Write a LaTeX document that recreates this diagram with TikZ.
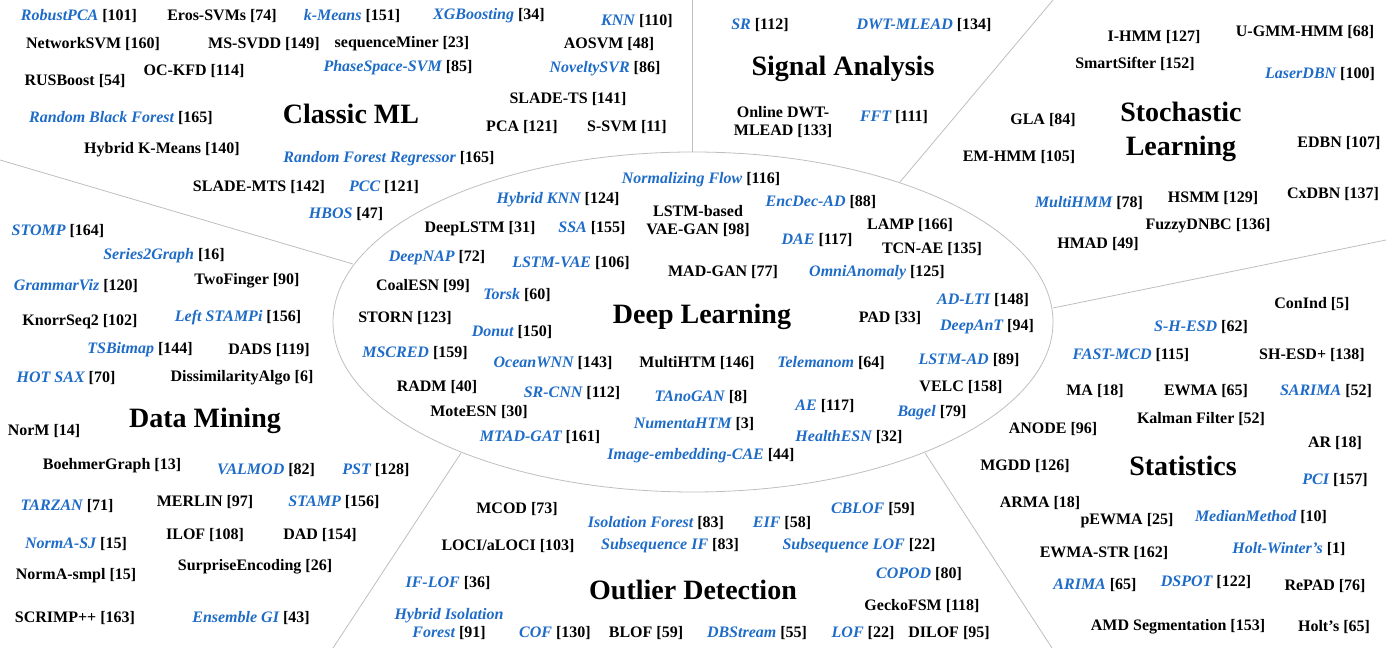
\documentclass[tikz,border=0pt]{standalone}
\usepackage{fontspec}
\setmainfont{Liberation Serif}
\definecolor{mblue}{RGB}{30,108,200}
\definecolor{sepgray}{RGB}{190,190,190}
\newcommand\mbl[1]{{\color{mblue}\itshape #1}}
\begin{document}
\begin{tikzpicture}[x=0.75pt,y=-0.75pt,
  lab/.style={inner sep=0pt,font=\fontsize{12}{14}\selectfont\bfseries,align=center},
  ttl/.style={inner sep=0pt,font=\fontsize{21}{25}\selectfont\bfseries,align=center},
  sep/.style={draw=sepgray,line width=0.6pt}]
\useasboundingbox (0,0) rectangle (1386,648);
% separators
\draw[sep] (693,322) ellipse [x radius=270pt, y radius=127.5pt];
\coordinate (s1a) at (692,0);    \coordinate (s1b) at (692,152);
\coordinate (s2a) at (1053,0);   \coordinate (s2b) at (900,182);
\coordinate (s3a) at (1386,240); \coordinate (s3b) at (1053,308);
\coordinate (s4a) at (925,453);  \coordinate (s4b) at (1052,648);
\coordinate (s5a) at (461,453);  \coordinate (s5b) at (333,648);
\coordinate (s6a) at (0,160);    \coordinate (s6b) at (353,264);
\draw[sep] (s1a) -- (s1b);
\draw[sep] (s2a) -- (s2b);
\draw[sep] (s3a) -- (s3b);
\draw[sep] (s4a) -- (s4b);
\draw[sep] (s5a) -- (s5b);
\draw[sep] (s6a) -- (s6b);
% Classic ML
\node[ttl] (tCML) at (351,114) {Classic ML};
\node[lab] (c1) at (79,16) {\mbl{RobustPCA} [101]};
\node[lab] (c2) at (222,16) {Eros-SVMs [74]};
\node[lab] (c3) at (352,16) {\mbl{k-Means} [151]};
\node[lab] (c4) at (489,16) {\mbl{XGBoosting} [34]};
\node[lab] (c5) at (637,21) {\mbl{KNN} [110]};
\node[lab] (c6) at (93,44) {NetworkSVM [160]};
\node[lab] (c7) at (264,44) {MS-SVDD [149]};
\node[lab] (c8) at (402,44) {sequenceMiner [23]};
\node[lab] (c9) at (609,44) {AOSVM [48]};
\node[lab] (c10) at (75,81) {RUSBoost [54]};
\node[lab] (c11) at (194,71) {OC-KFD [114]};
\node[lab] (c12) at (398,68) {\mbl{PhaseSpace-SVM} [85]};
\node[lab] (c13) at (605,69) {\mbl{NoveltySVR} [86]};
\node[lab] (c14) at (121,118) {\mbl{Random Black Forest} [165]};
\node[lab] (c15) at (568,99) {SLADE-TS [141]};
\node[lab] (c16) at (522,127) {PCA [121]};
\node[lab] (c17) at (627,127) {S-SVM [11]};
\node[lab] (c18) at (162,150) {Hybrid K-Means [140]};
\node[lab] (c19) at (389,159) {\mbl{Random Forest Regressor} [165]};
\node[lab] (c20) at (259,187) {SLADE-MTS [142]};
\node[lab] (c21) at (384,187) {\mbl{PCC} [121]};
\node[lab] (c22) at (346,214) {\mbl{HBOS} [47]};
% Signal Analysis
\node[ttl] (tSA) at (843,69) {Signal Analysis};
\node[lab] (a1) at (760,25) {\mbl{SR} [112]};
\node[lab] (a2) at (924,25) {\mbl{DWT-MLEAD} [134]};
\node[lab] (a3) at (783,122) {Online DWT-\\MLEAD [133]};
\node[lab] (a4) at (894,117) {\mbl{FFT} [111]};
% Stochastic Learning
\node[ttl] (tSL) at (1181,132) {Stochastic\\Learning};
\node[lab] (s1) at (1154,37) {I-HMM [127]};
\node[lab] (s2) at (1305,32) {U-GMM-HMM [68]};
\node[lab] (s3) at (1135,64) {SmartSifter [152]};
\node[lab] (s4) at (1320,74) {\mbl{LaserDBN} [100]};
\node[lab] (s5) at (1043,120) {GLA [84]};
\node[lab] (s6) at (1339,143) {EDBN [107]};
\node[lab] (s7) at (1019,157) {EM-HMM [105]};
\node[lab] (s8) at (1089,203) {\mbl{MultiHMM} [78]};
\node[lab] (s9) at (1213,198) {HSMM [129]};
\node[lab] (s10) at (1333,194) {CxDBN [137]};
\node[lab] (s11) at (1208,226) {FuzzyDNBC [136]};
\node[lab] (s12) at (1098,244) {HMAD [49]};
% Statistics
\node[ttl] (tST) at (1183,466) {Statistics};
\node[lab] (t1) at (1312,304) {ConInd [5]};
\node[lab] (t2) at (1201,327) {\mbl{S-H-ESD} [62]};
\node[lab] (t3) at (1131,355) {\mbl{FAST-MCD} [115]};
\node[lab] (t4) at (1312,355) {SH-ESD+ [138]};
\node[lab] (t5) at (1095,391) {MA [18]};
\node[lab] (t6) at (1206,391) {EWMA [65]};
\node[lab] (t7) at (1326,391) {\mbl{SARIMA} [52]};
\node[lab] (t8) at (1201,419) {Kalman Filter [52]};
\node[lab] (t9) at (1053,429) {ANODE [96]};
\node[lab] (t10) at (1335,443) {AR [18]};
\node[lab] (t11) at (1025,466) {MGDD [126]};
\node[lab] (t12) at (1335,480) {\mbl{PCI} [157]};
\node[lab] (t13) at (1040,503) {ARMA [18]};
\node[lab] (t14) at (1127,521) {pEWMA [25]};
\node[lab] (t15) at (1261,517) {\mbl{MedianMethod} [10]};
\node[lab] (t16) at (1104,553) {EWMA-STR [162]};
\node[lab] (t17) at (1289,549) {\mbl{Holt-Winter’s} [1]};
\node[lab] (t18) at (1095,585) {\mbl{ARIMA} [65]};
\node[lab] (t19) at (1206,582) {\mbl{DSPOT} [122]};
\node[lab] (t20) at (1325,586) {RePAD [76]};
\node[lab] (t21) at (1178,627) {AMD Segmentation [153]};
\node[lab] (t22) at (1334,627) {Holt’s [65]};
% Outlier Detection
\node[ttl] (tOD) at (693,590) {Outlier Detection};
\node[lab] (o1) at (517,509) {MCOD [73]};
\node[lab] (o2) at (873,509) {\mbl{CBLOF} [59]};
\node[lab] (o3) at (656,523) {\mbl{Isolation Forest} [83]};
\node[lab] (o4) at (782,523) {\mbl{EIF} [58]};
\node[lab] (o5) at (508,546) {LOCI/aLOCI [103]};
\node[lab] (o6) at (670,546) {\mbl{Subsequence IF} [83]};
\node[lab] (o7) at (859,546) {\mbl{Subsequence LOF} [22]};
\node[lab] (o8) at (448,583) {\mbl{IF-LOF} [36]};
\node[lab] (o9) at (919,574) {\mbl{COPOD} [80]};
\node[lab] (o10) at (922,606) {GeckoFSM [118]};
\node[lab] (o11) at (449,624) {\mbl{Hybrid Isolation}\\\mbl{Forest} [91]};
\node[lab] (o12) at (555,633) {\mbl{COF} [130]};
\node[lab] (o13) at (646,633) {BLOF [59]};
\node[lab] (o14) at (757,633) {\mbl{DBStream} [55]};
\node[lab] (o15) at (863,633) {\mbl{LOF} [22]};
\node[lab] (o16) at (949,633) {DILOF [95]};
% Data Mining
\node[ttl] (tDM) at (205,421) {Data Mining};
\node[lab] (d1) at (58,231) {\mbl{STOMP} [164]};
\node[lab] (d2) at (164,256) {\mbl{Series2Graph} [16]};
\node[lab] (d3) at (76,286) {\mbl{GrammarViz} [120]};
\node[lab] (d4) at (247,281) {TwoFinger [90]};
\node[lab] (d5) at (80,322) {KnorrSeq2 [102]};
\node[lab] (d6) at (238,318) {\mbl{Left STAMPi} [156]};
\node[lab] (d7) at (140,350) {\mbl{TSBitmap} [144]};
\node[lab] (d8) at (269,350) {DADS [119]};
\node[lab] (d9) at (66,378) {\mbl{HOT SAX} [70]};
\node[lab] (d10) at (242,378) {DissimilarityAlgo [6]};
\node[lab] (d11) at (44,431) {NorM [14]};
\node[lab] (d12) at (112,466) {BoehmerGraph [13]};
\node[lab] (d13) at (266,470) {\mbl{VALMOD} [82]};
\node[lab] (d14) at (376,470) {\mbl{PST} [128]};
\node[lab] (d15) at (67,506) {\mbl{TARZAN} [71]};
\node[lab] (d16) at (205,502) {MERLIN [97]};
\node[lab] (d17) at (334,502) {\mbl{STAMP} [156]};
\node[lab] (d18) at (76,544) {\mbl{NormA-SJ} [15]};
\node[lab] (d19) at (205,535) {ILOF [108]};
\node[lab] (d20) at (320,535) {DAD [154]};
\node[lab] (d21) at (76,576) {NormA-smpl [15]};
\node[lab] (d22) at (255,567) {SurpriseEncoding [26]};
\node[lab] (d23) at (75,618) {SCRIMP++ [163]};
\node[lab] (d24) at (251,618) {\mbl{Ensemble GI} [43]};
% Deep Learning
\node[ttl] (tDL) at (702,317) {Deep Learning};
\node[lab] (e1) at (701,180) {\mbl{Normalizing Flow} [116]};
\node[lab] (e2) at (558,200) {\mbl{Hybrid KNN} [124]};
\node[lab] (e3) at (821,202) {\mbl{EncDec-AD} [88]};
\node[lab] (e4) at (698,221) {LSTM-based\\VAE-GAN [98]};
\node[lab] (e5) at (480,229) {DeepLSTM [31]};
\node[lab] (e6) at (592,228) {\mbl{SSA} [155]};
\node[lab] (e7) at (910,225) {LAMP [166]};
\node[lab] (e8) at (817,240) {\mbl{DAE} [117]};
\node[lab] (e9) at (932,249) {TCN-AE [135]};
\node[lab] (e10) at (437,258) {\mbl{DeepNAP} [72]};
\node[lab] (e11) at (571,263) {\mbl{LSTM-VAE} [106]};
\node[lab] (e12) at (723,272) {MAD-GAN [77]};
\node[lab] (e13) at (877,273) {\mbl{OmniAnomaly} [125]};
\node[lab] (e14) at (423,286) {CoalESN [99]};
\node[lab] (e15) at (517,295) {\mbl{Torsk} [60]};
\node[lab] (e16) at (983,300) {\mbl{AD-LTI} [148]};
\node[lab] (e17) at (405,318) {STORN [123]};
\node[lab] (e18) at (890,318) {PAD [33]};
\node[lab] (e19) at (987,327) {\mbl{DeepAnT} [94]};
\node[lab] (e20) at (512,332) {\mbl{Donut} [150]};
\node[lab] (e21) at (415,353) {\mbl{MSCRED} [159]};
\node[lab] (e22) at (553,363) {\mbl{OceanWNN} [143]};
\node[lab] (e23) at (697,363) {MultiHTM [146]};
\node[lab] (e24) at (831,363) {\mbl{Telemanom} [64]};
\node[lab] (e25) at (969,360) {\mbl{LSTM-AD} [89]};
\node[lab] (e26) at (437,387) {RADM [40]};
\node[lab] (e27) at (961,387) {VELC [158]};
\node[lab] (e28) at (572,393) {\mbl{SR-CNN} [112]};
\node[lab] (e29) at (701,397) {\mbl{TAnoGAN} [8]};
\node[lab] (e30) at (825,406) {\mbl{AE} [117]};
\node[lab] (e31) at (479,412) {MoteESN [30]};
\node[lab] (e32) at (932,413) {\mbl{Bagel} [79]};
\node[lab] (e33) at (694,424) {\mbl{NumentaHTM} [3]};
\node[lab] (e34) at (540,437) {\mbl{MTAD-GAT} [161]};
\node[lab] (e35) at (849,437) {\mbl{HealthESN} [32]};
\node[lab] (e36) at (701,456) {\mbl{Image-embedding-CAE} [44]};
\end{tikzpicture}
\end{document}
